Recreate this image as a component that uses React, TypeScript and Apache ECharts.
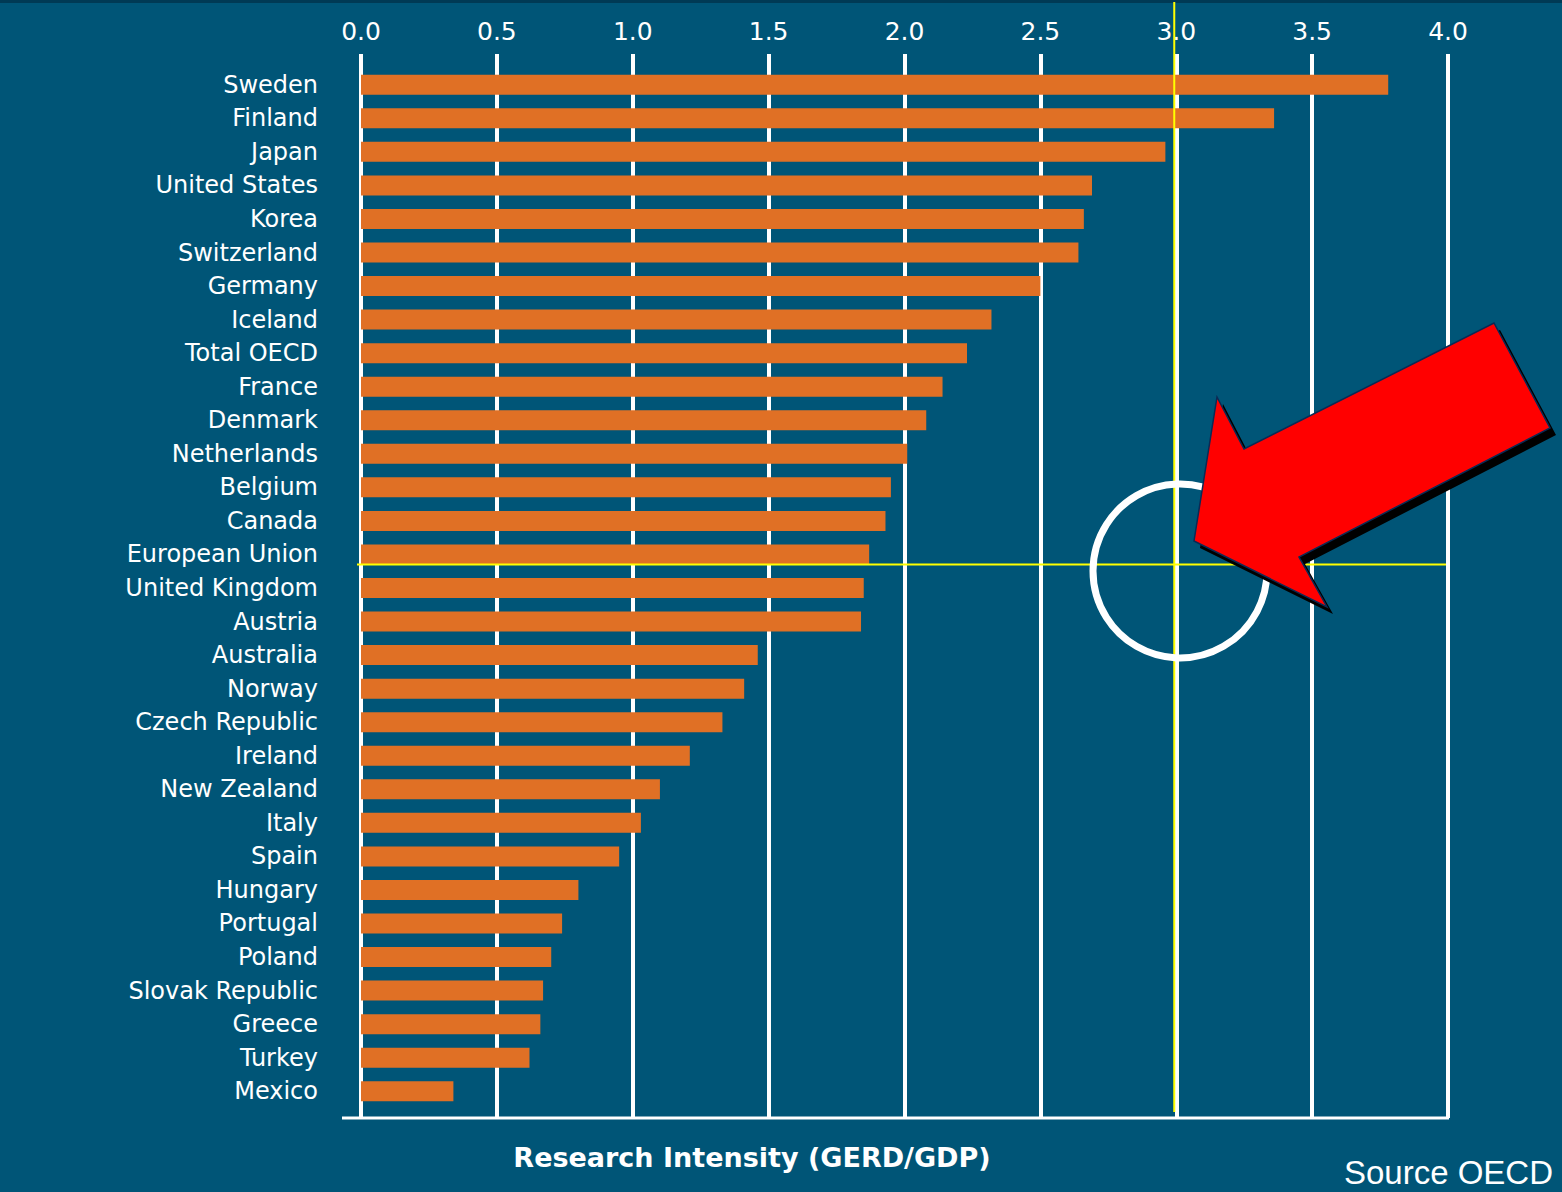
import React, { useEffect, useRef } from "react";
import * as echarts from "echarts";

const categories = [
  "Sweden", "Finland", "Japan", "United States", "Korea", "Switzerland", "Germany",
  "Iceland", "Total OECD", "France", "Denmark", "Netherlands", "Belgium", "Canada",
  "European Union", "United Kingdom", "Austria", "Australia", "Norway", "Czech Republic",
  "Ireland", "New Zealand", "Italy", "Spain", "Hungary", "Portugal", "Poland",
  "Slovak Republic", "Greece", "Turkey", "Mexico",
];
const values = [
  3.78, 3.36, 2.96, 2.69, 2.66, 2.64, 2.5,
  2.32, 2.23, 2.14, 2.08, 2.01, 1.95, 1.93,
  1.87, 1.85, 1.84, 1.46, 1.41, 1.33,
  1.21, 1.1, 1.03, 0.95, 0.8, 0.74, 0.7,
  0.67, 0.66, 0.62, 0.34,
];
const xMin = 0;
const xMax = 4;
const xInterval = 0.5;
const highlightValue = 3.0;
const highlightCategory = "European Union";
const axisTitle = "Research Intensity (GERD/GDP)";
const sourceText = "Source OECD";

const BG = "#005577";
const BAR = "#E07025";

export default function App() {
  const ref = useRef<HTMLDivElement>(null);
  useEffect(() => {
    document.body.style.margin = "0";
    const chart = echarts.init(ref.current!, null, { renderer: "svg" });
    const left = 361;
    const width = 1087;
    const outerTop = 54;
    const outerBottom = 1118;
    const innerTop = 68;
    const innerHeight = 1040;
    const xPix = (v: number) => left + ((v - xMin) / (xMax - xMin)) * width;
    const band = innerHeight / categories.length;
    const euIdx = categories.indexOf(highlightCategory);
    const euY = innerTop + band * (euIdx + 0.5) + 10;
    const hx = xPix(highlightValue) - 2;

    const arrowPts: [number, number][] = [
      [1194, 541], [1217, 397], [1244, 449], [1494, 323],
      [1550, 428], [1299, 557], [1327, 607],
    ];
    const shadowPts = arrowPts.map(([x, y]) => [x + 6, y + 7]);

    chart.setOption({
      animation: false,
      backgroundColor: BG,
      grid: [
        { left, top: outerTop, width, height: outerBottom - outerTop },
        { left, top: innerTop, width, height: innerHeight },
      ],
      xAxis: [
        {
          gridIndex: 0,
          type: "value",
          position: "top",
          min: xMin,
          max: xMax,
          interval: xInterval,
          axisLine: { show: false },
          axisTick: { show: false },
          axisLabel: {
            color: "#ffffff",
            fontFamily: "DejaVu Sans",
            fontSize: 25,
            margin: 10,
            formatter: (v: number) => v.toFixed(1),
          },
          splitLine: { show: true, lineStyle: { color: "#ffffff", width: 4 } },
        },
        {
          gridIndex: 1,
          type: "value",
          min: xMin,
          max: xMax,
          interval: xInterval,
          show: false,
        },
      ],
      yAxis: [
        { gridIndex: 0, type: "value", show: false },
        {
          gridIndex: 1,
          type: "category",
          inverse: true,
          data: categories,
          axisLine: { show: false },
          axisTick: { show: false },
          splitLine: { show: false },
          axisLabel: {
            color: "#ffffff",
            fontFamily: "DejaVu Sans",
            fontSize: 24,
            margin: 43,
            padding: [5, 0, 0, 0],
          },
        },
      ],
      series: [
        {
          type: "bar",
          xAxisIndex: 1,
          yAxisIndex: 1,
          data: values,
          barWidth: 20,
          itemStyle: { color: BAR },
          z: 3,
        },
      ],
      graphic: [
        { type: "rect", shape: { x: 0, y: 0, width: 1562, height: 3 }, style: { fill: "#003a55" } },
        {
          type: "line",
          shape: { x1: 342, y1: outerBottom, x2: left + width + 1, y2: outerBottom },
          style: { stroke: "#ffffff", lineWidth: 3 },
        },
        {
          type: "line",
          z: 10,
          shape: { x1: hx, y1: 2, x2: hx, y2: 1112 },
          style: { stroke: "#ffff00", lineWidth: 2 },
        },
        {
          type: "line",
          z: 10,
          shape: { x1: 357, y1: euY, x2: 1446, y2: euY },
          style: { stroke: "#ffff00", lineWidth: 2 },
        },
        {
          type: "circle",
          z: 11,
          shape: { cx: 1180, cy: 571, r: 87 },
          style: { fill: "none", stroke: "#ffffff", lineWidth: 7 },
        },
        {
          type: "polygon",
          z: 12,
          shape: { points: shadowPts },
          style: { fill: "#000000" },
        },
        {
          type: "polygon",
          z: 13,
          shape: { points: arrowPts },
          style: { fill: "#ff0000", stroke: "#0a2a55", lineWidth: 1.5 },
        },
        {
          type: "text",
          z: 10,
          x: 752,
          y: 1157,
          style: {
            text: axisTitle,
            fill: "#ffffff",
            font: "bold 27px 'DejaVu Sans'",
            textAlign: "center",
            textVerticalAlign: "middle",
          },
        },
        {
          type: "text",
          z: 10,
          x: 1553,
          y: 1172,
          style: {
            text: sourceText,
            fill: "#ffffff",
            font: "33px 'Liberation Sans'",
            textAlign: "right",
            textVerticalAlign: "middle",
          },
        },
      ],
    });
    return () => chart.dispose();
  }, []);
  return (
    <div
      ref={ref}
      style={{ position: "fixed", left: 0, top: 0, width: 1562, height: 1192 }}
    />
  );
}
